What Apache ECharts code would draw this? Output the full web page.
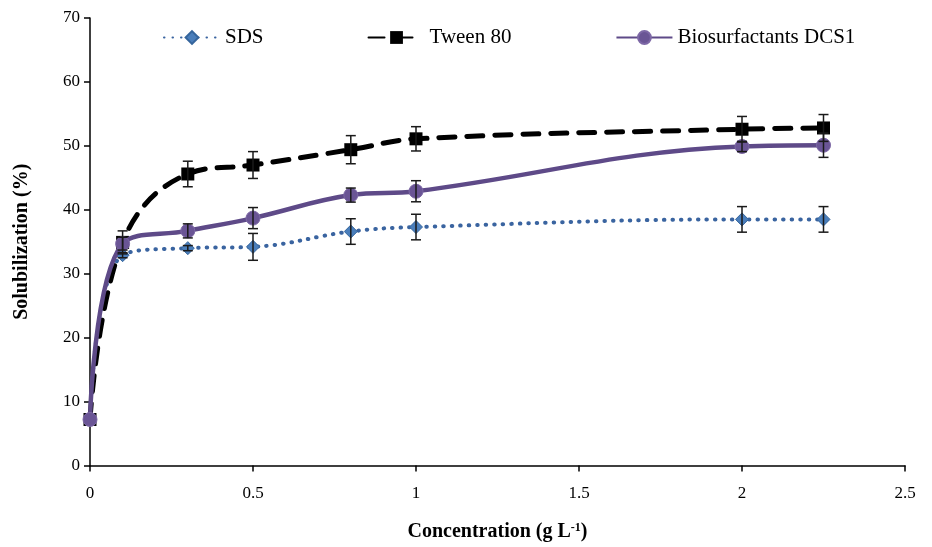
<!DOCTYPE html>
<html>
<head>
<meta charset="utf-8">
<script src="https://cdn.jsdelivr.net/npm/echarts@6/dist/echarts.min.js"></script>
<style>
  html, body { margin: 0; padding: 0; background: #fff; }
  #chart { width: 932px; height: 547px; }
</style>
</head>
<body>
<div id="chart"></div>
<script>
// ── Data ─────────────────────────────────────────────────────────────────────
const conc = [0, 0.1, 0.3, 0.5, 0.8, 1, 2, 2.25];

const sds      = [7.2, 32.9, 34.0, 34.2, 36.6, 37.3, 38.5, 38.5];
const sdsErr   = [0, 0.4, 0.4, 2.1, 2.0, 2.0, 2.0, 2.0];

const tween    = [7.2, 34.9, 45.6, 47.0, 49.4, 51.1, 52.6, 52.8];
const tweenErr = [0, 1.8, 2.0, 2.1, 2.2, 1.9, 2.0, 2.1];

const bio      = [7.2, 34.7, 36.7, 38.7, 42.3, 42.9, 49.9, 50.1];
const bioErr   = [0, 1.0, 1.1, 1.65, 1.1, 1.65, 0.8, 1.9];

const xTicks = [0, 0.5, 1, 1.5, 2, 2.5];
const yTicks = [0, 10, 20, 30, 40, 50, 60, 70];

// ── Helpers ──────────────────────────────────────────────────────────────────
const SERIF = "'Liberation Serif', 'DejaVu Serif', serif";
const pairs = ys => conc.map((x, i) => [x, ys[i]]);

function errorBars(name, ys, errs) {
  return {
    name: name + ' err',
    type: 'custom',
    z: 5,
    silent: true,
    data: conc.map((x, i) => [x, ys[i] - errs[i], ys[i] + errs[i]]),
    renderItem: (params, api) => {
      if (api.value(2) - api.value(1) <= 0) return null;
      const lo = api.coord([api.value(0), api.value(1)]);
      const hi = api.coord([api.value(0), api.value(2)]);
      const w = 5;
      const st = { stroke: '#1a1a1a', lineWidth: 1.5 };
      return {
        type: 'group',
        children: [
          { type: 'line', shape: { x1: hi[0], y1: hi[1], x2: lo[0], y2: lo[1] }, style: st },
          { type: 'line', shape: { x1: hi[0] - w, y1: hi[1], x2: hi[0] + w, y2: hi[1] }, style: st },
          { type: 'line', shape: { x1: lo[0] - w, y1: lo[1], x2: lo[0] + w, y2: lo[1] }, style: st },
        ],
      };
    },
  };
}

// ── Chart ────────────────────────────────────────────────────────────────────
const chart = echarts.init(document.getElementById('chart'));

chart.setOption({
  animation: false,
  backgroundColor: '#fff',
  grid: { left: 90, right: 27, top: 18, bottom: 78 },
  legend: {
    left: 158, top: 22,
    itemWidth: 56, itemHeight: 16, itemGap: 104,
    data: ['SDS', 'Tween 80', 'Biosurfactants DCS1'],
    textStyle: { fontFamily: SERIF, fontSize: 21, color: '#000', padding: [0, 0, 0, 0] },
  },
  xAxis: {
    type: 'value', min: 0, max: 2.5, interval: 0.5,
    name: 'Concentration (g L{sup|-1})',
    nameLocation: 'middle', nameGap: 56,
    nameTextStyle: {
      fontFamily: SERIF, fontSize: 20, fontWeight: 'bold', color: '#000',
      rich: { sup: { fontFamily: SERIF, fontSize: 12, fontWeight: 'bold', padding: [0, 0, 9, 0] } },
    },
    axisLine: { lineStyle: { color: '#000', width: 1.5 } },
    axisTick: { show: true, inside: false, length: 6, lineStyle: { color: '#000', width: 1.5 } },
    axisLabel: {
      fontFamily: SERIF, fontSize: 17, color: '#000', margin: 20,
      formatter: v => xTicks.includes(v) ? String(v) : '',
    },
    splitLine: { show: false },
  },
  yAxis: {
    type: 'value', min: 0, max: 70, interval: 10,
    name: 'Solubilization (%)',
    nameLocation: 'middle', nameGap: 58,
    nameTextStyle: { fontFamily: SERIF, fontSize: 20, fontWeight: 'bold', color: '#000' },
    axisLine: { show: true, lineStyle: { color: '#000', width: 1.5 } },
    axisTick: { show: true, inside: false, length: 6, lineStyle: { color: '#000', width: 1.5 } },
    axisLabel: {
      fontFamily: SERIF, fontSize: 17, color: '#000', margin: 10,
      formatter: v => yTicks.includes(v) ? String(v) : '',
    },
    splitLine: { show: false },
  },
  series: [
    {
      name: 'SDS', type: 'line', smooth: 0.4, z: 3,
      data: pairs(sds),
      symbol: 'diamond', symbolSize: 13,
      itemStyle: { color: '#4a7ebb', borderColor: '#35659c', borderWidth: 1 },
      lineStyle: { color: '#3a64a0', width: 4, type: [0.5, 8], cap: 'round' },
    },
    {
      name: 'Tween 80', type: 'line', smooth: 0.4, z: 3,
      data: pairs(tween),
      symbol: 'rect', symbolSize: 13,
      itemStyle: { color: '#000', borderColor: '#000', borderWidth: 0 },
      lineStyle: { color: '#000', width: 5, type: [16, 12], cap: 'round' },
    },
    {
      name: 'Biosurfactants DCS1', type: 'line', smooth: 0.4, z: 4,
      data: pairs(bio),
      symbol: 'circle', symbolSize: 14,
      itemStyle: { color: '#6a5595', borderColor: '#7d68a6', borderWidth: 1 },
      lineStyle: { color: '#5e4a88', width: 4.5 },
    },
    errorBars('SDS', sds, sdsErr),
    errorBars('Tween 80', tween, tweenErr),
    errorBars('Biosurfactants DCS1', bio, bioErr),
  ],
});
</script>
</body>
</html>
